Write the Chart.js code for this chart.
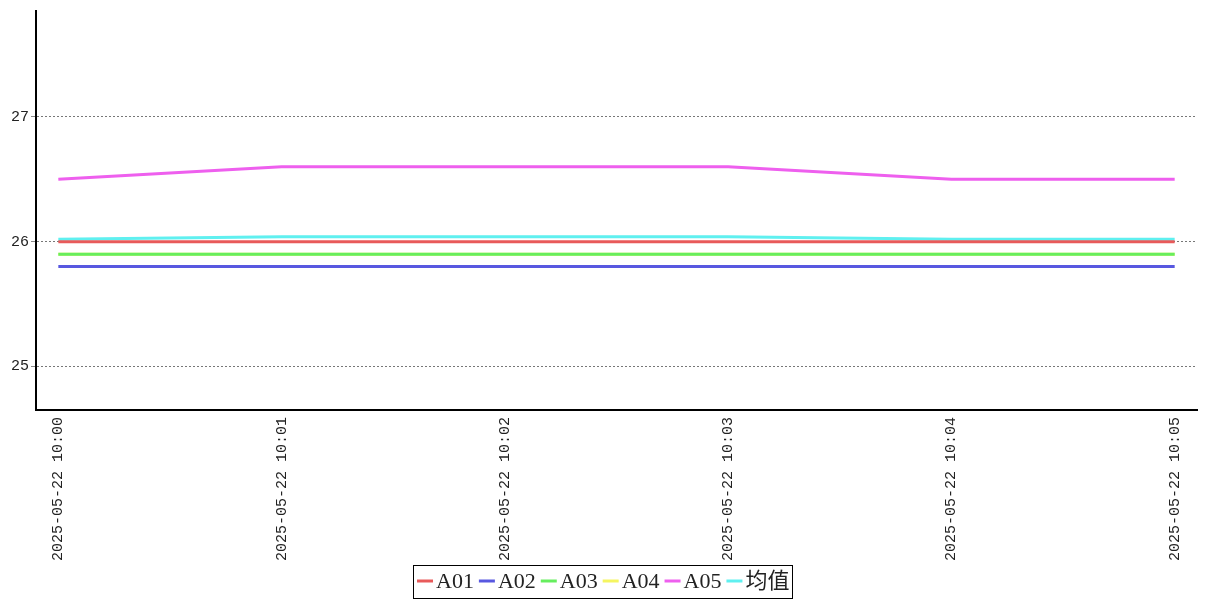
<!DOCTYPE html>
<html>
<head>
<meta charset="utf-8">
<script src="https://cdn.jsdelivr.net/npm/chart.js@4.4.1/dist/chart.umd.min.js"></script>
<style>
  html, body { margin: 0; padding: 0; background: #fff; }
  #wrap { width: 1207px; height: 600px; }
</style>
</head>
<body>
<div id="wrap"><canvas id="chart"></canvas></div>
<script>
const times = ['2025-05-22 10:00', '2025-05-22 10:01', '2025-05-22 10:02', '2025-05-22 10:03', '2025-05-22 10:04', '2025-05-22 10:05'];
const a01 = [26.0, 26.0, 26.0, 26.0, 26.0, 26.0];
const a02 = [25.8, 25.8, 25.8, 25.8, 25.8, 25.8];
const a03 = [25.9, 25.9, 25.9, 25.9, 25.9, 25.9];
const a04 = [25.9, 25.9, 25.9, 25.9, 25.9, 25.9];
const a05 = [26.5, 26.6, 26.6, 26.6, 26.5, 26.5];
const avg = [26.02, 26.04, 26.04, 26.04, 26.02, 26.02];
const yTicks = [25, 26, 27];

const seriesNames = ['A01', 'A02', 'A03', 'A04', 'A05', '均值'];
const seriesData = [a01, a02, a03, a04, a05, avg];
const seriesColors = ['#e85a5a', '#5858e0', '#66ee5e', '#f5f560', '#ee5fee', '#5ff0f0'];

const monoFont = '"Liberation Mono", "Noto Sans CJK SC", monospace';
const legendFont = '22px "Liberation Serif", "Noto Sans CJK SC", serif';

const datasets = seriesNames.map((name, i) => ({
    label: name,
    data: seriesData[i].map((v, k) => ({ x: k, y: v })),
    borderColor: seriesColors[i],
    backgroundColor: seriesColors[i],
    borderWidth: 3,
    pointRadius: 0,
    tension: 0,
    fill: false
}));

// compact boxed legend drawn under the chart
const boxedLegend = {
    id: 'boxedLegend',
    afterDraw(chart) {
        const ctx = chart.ctx;
        const sets = chart.data.datasets;
        ctx.save();
        ctx.font = legendFont;
        const sampleW = 16, gapIn = 3, gapOut = 5;
        let total = 0;
        const widths = sets.map(ds => ctx.measureText(ds.label).width);
        widths.forEach(w => { total += sampleW + gapIn + w + gapOut; });
        total -= gapOut;
        const cx = chart.width / 2;
        let x = Math.round(cx - total / 2);
        const midY = 581;
        ctx.strokeStyle = '#000';
        ctx.lineWidth = 1;
        ctx.strokeRect(x - 3.5, 565.5, Math.round(total + 7), 33);
        ctx.textBaseline = 'middle';
        ctx.fillStyle = '#222';
        sets.forEach((ds, i) => {
            ctx.strokeStyle = ds.borderColor;
            ctx.lineWidth = 3;
            ctx.beginPath();
            ctx.moveTo(x, midY);
            ctx.lineTo(x + sampleW, midY);
            ctx.stroke();
            x += sampleW + gapIn;
            ctx.fillText(ds.label, x, midY + 1);
            x += widths[i] + gapOut;
        });
        ctx.restore();
    }
};

new Chart(document.getElementById('chart'), {
    type: 'line',
    data: { datasets: datasets },
    options: {
        responsive: true,
        maintainAspectRatio: false,
        animation: false,
        layout: { padding: { top: 10, right: 10, left: 9, bottom: 37 } },
        scales: {
            x: {
                type: 'linear',
                min: -0.1,
                max: 5.1,
                grid: { display: false, drawTicks: true, tickLength: 5, tickColor: '#888' },
                border: { display: true, color: '#000', width: 2 },
                ticks: {
                    stepSize: 1,
                    includeBounds: false,
                    autoSkip: false,
                    maxRotation: 90,
                    minRotation: 90,
                    padding: 2,
                    color: '#222',
                    font: { family: monoFont, size: 15 },
                    callback: (v) => times[v] !== undefined ? times[v] : ''
                }
            },
            y: {
                min: 24.65,
                max: 27.85,
                grid: {
                    color: '#777',
                    lineWidth: 1,
                    tickLength: 5,
                    tickColor: '#888'
                },
                border: { display: true, color: '#000', width: 2, dash: [2, 2] },
                afterBuildTicks: (axis) => { axis.ticks = yTicks.map(v => ({ value: v })); },
                ticks: {
                    padding: 2,
                    color: '#222',
                    font: { family: monoFont, size: 15 }
                }
            }
        },
        plugins: {
            legend: { display: false },
            tooltip: { enabled: false }
        }
    },
    plugins: [boxedLegend]
});
</script>
</body>
</html>
